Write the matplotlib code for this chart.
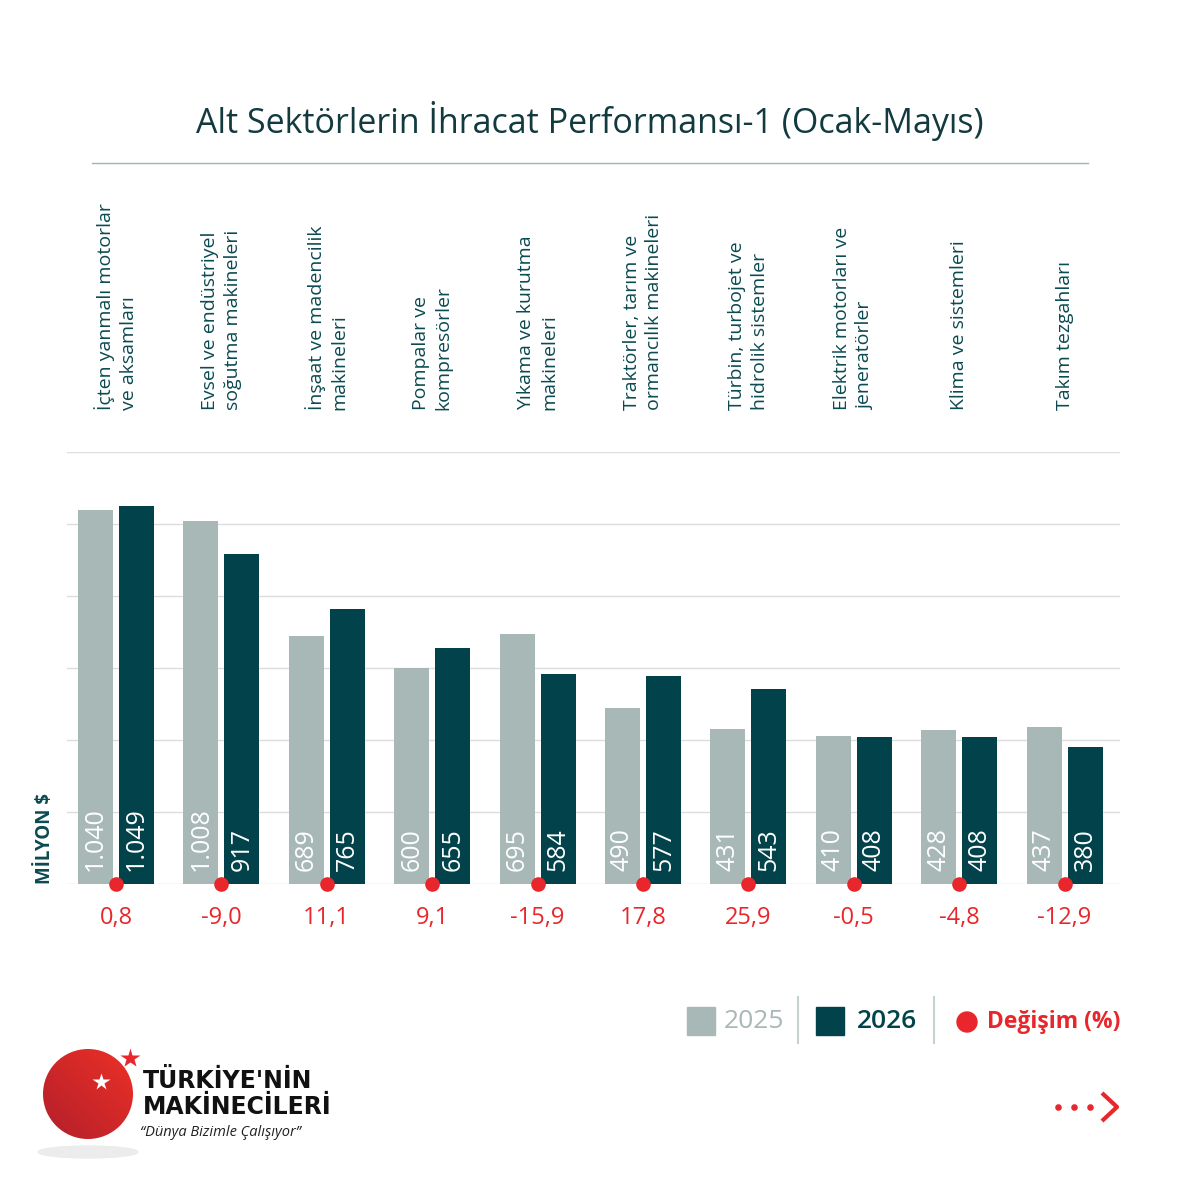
import numpy as np
import matplotlib
matplotlib.use('Agg')
import matplotlib.pyplot as plt
from matplotlib.patches import Circle, Ellipse

categories = [
    'İçten yanmalı motorlar\nve aksamları',
    'Evsel ve endüstriyel\nsoğutma makineleri',
    'İnşaat ve madencilik\nmakineleri',
    'Pompalar ve\nkompresörler',
    'Yıkama ve kurutma\nmakineleri',
    'Traktörler, tarım ve\normancılık makineleri',
    'Türbin, turbojet ve\nhidrolik sistemler',
    'Elektrik motorları ve\njeneratörler',
    'Klima ve sistemleri',
    'Takım tezgahları',
]
values_2025 = [1040, 1008, 689, 600, 695, 490, 431, 410, 428, 437]
values_2026 = [1049, 917, 765, 655, 584, 577, 543, 408, 408, 380]
change_pct = [0.8, -9.0, 11.1, 9.1, -15.9, 17.8, 25.9, -0.5, -4.8, -12.9]
y_ticks = [0, 200, 400, 600, 800, 1000, 1200]

GRAY = '#a8b8b7'
DARK = '#02434b'
RED = '#e8262b'
TITLE = '#123a3f'
LABEL = '#0a4a50'
GRID = '#dddddd'

plt.rcParams['font.family'] = ['Open Sans', 'DejaVu Sans']


def tr_int(v):
    return '{:,}'.format(v).replace(',', '.')


def tr_pct(v):
    return '{:.1f}'.format(v).replace('.', ',')


fig = plt.figure(figsize=(11.81, 11.81), dpi=100)
fig.patch.set_facecolor('white')

# main bar axes, placed in pixel terms of the 1181px picture
ax = fig.add_axes([67 / 1181, 1 - 884 / 1181, 1053 / 1181, 432 / 1181])
x = np.arange(len(categories))
w = 0.332
off = 0.1945
ax.bar(x - off, values_2025, w, color=GRAY, zorder=2)
ax.bar(x + off, values_2026, w, color=DARK, zorder=2)
ax.set_xlim(-0.465, 9.526)
ax.set_ylim(0, 1200)
ax.set_yticks(y_ticks)
ax.grid(axis='y', color=GRID, lw=1)
ax.set_axisbelow(True)
ax.tick_params(left=False, bottom=False, labelleft=False, labelbottom=False)
for s in ax.spines.values():
    s.set_visible(False)

for i in range(len(categories)):
    ax.text(i - off, 36, tr_int(values_2025[i]), rotation=90, ha='center', va='bottom',
            color='white', fontsize=18)
    ax.text(i + off, 36, tr_int(values_2026[i]), rotation=90, ha='center', va='bottom',
            color='white', fontsize=18)
    ax.text(i, -95, tr_pct(change_pct[i]), ha='center', va='center', color=RED, fontsize=17)
    ax.text(i, 1.097, categories[i], rotation=90, ha='center', va='bottom',
            multialignment='left', color=LABEL, fontsize=14, linespacing=1.35,
            transform=ax.get_xaxis_transform())
ax.scatter(x, np.zeros(len(x)), s=90, color=RED, zorder=5, clip_on=False)

ax.text(-0.021, 0, 'MİLYON $', rotation=90, ha='center', va='bottom', color=LABEL,
        fontsize=13.5, fontweight='bold', transform=ax.transAxes)

# overlay in pixel coordinates for title, legend and logo
ov = fig.add_axes([0, 0, 1, 1], zorder=-1)
ov.set_xlim(0, 1181)
ov.set_ylim(1181, 0)
ov.axis('off')

ov.text(590, 121, 'Alt Sektörlerin İhracat Performansı-1 (Ocak-Mayıs)', ha='center', va='center',
        color=TITLE, fontsize=24.5, fontweight='medium')
ov.plot([92, 1088], [163, 163], color='#9fb5b3', lw=1)

# legend
ov.add_patch(plt.Rectangle((687, 1007), 28, 28, color=GRAY))
ov.text(724, 1022, '2025', ha='left', va='center', color=GRAY, fontsize=19)
ov.plot([798, 798], [997, 1043], color='#c5d2d1', lw=1.5)
ov.add_patch(plt.Rectangle((816, 1007), 28, 28, color=DARK))
ov.text(857, 1022, '2026', ha='left', va='center', color=DARK, fontsize=19, fontweight='semibold')
ov.plot([934, 934], [997, 1043], color='#c5d2d1', lw=1.5)
ov.add_patch(Circle((967, 1022), 10, color=RED))
ov.text(987, 1022, 'Değişim (%)', ha='left', va='center', color=RED, fontsize=16.5, fontweight='bold')

# next arrow
ov.scatter([1058, 1074, 1090], [1107, 1107, 1107], s=14, color=RED)
ov.plot([1102, 1117, 1102], [1093, 1107, 1121], color=RED, lw=3, solid_capstyle='butt')

# logo
ov.add_patch(Ellipse((88, 1152), 100, 12, color='#ececec'))
grad = np.linspace(0, 1, 200)
gx, gy = np.meshgrid(grad, grad)
g = (gx + (1 - gy)) / 2
img = np.zeros((200, 200, 3))
c1 = np.array([0.93, 0.19, 0.15])
c2 = np.array([0.70, 0.12, 0.17])
for k in range(3):
    img[:, :, k] = c2[k] + (c1[k] - c2[k]) * g
im = ov.imshow(img, extent=(43, 133, 1139, 1049), zorder=2)
clip = Circle((88, 1094), 45, transform=ov.transData)
im.set_clip_path(clip)
ov.plot([101], [1082], marker='*', ms=13, color='white', mec='none', zorder=3)
ov.plot([130], [1058], marker='*', ms=15, color=RED, mec='none', zorder=3)
ov.text(143, 1081, "TÜRKİYE'NİN", ha='left', va='center', color='#111111', fontsize=17,
        fontweight='bold', family='DejaVu Sans')
ov.text(143, 1107, 'MAKİNECİLERİ', ha='left', va='center', color='#111111', fontsize=17,
        fontweight='bold', family='DejaVu Sans')
ov.text(140, 1132, '“Dünya Bizimle Çalışıyor”', ha='left', va='center', color='#222222',
        fontsize=10.5, style='italic')
ov.set_xlim(0, 1181)
ov.set_ylim(1181, 0)

fig.savefig('out.png', dpi=100, facecolor='white')
